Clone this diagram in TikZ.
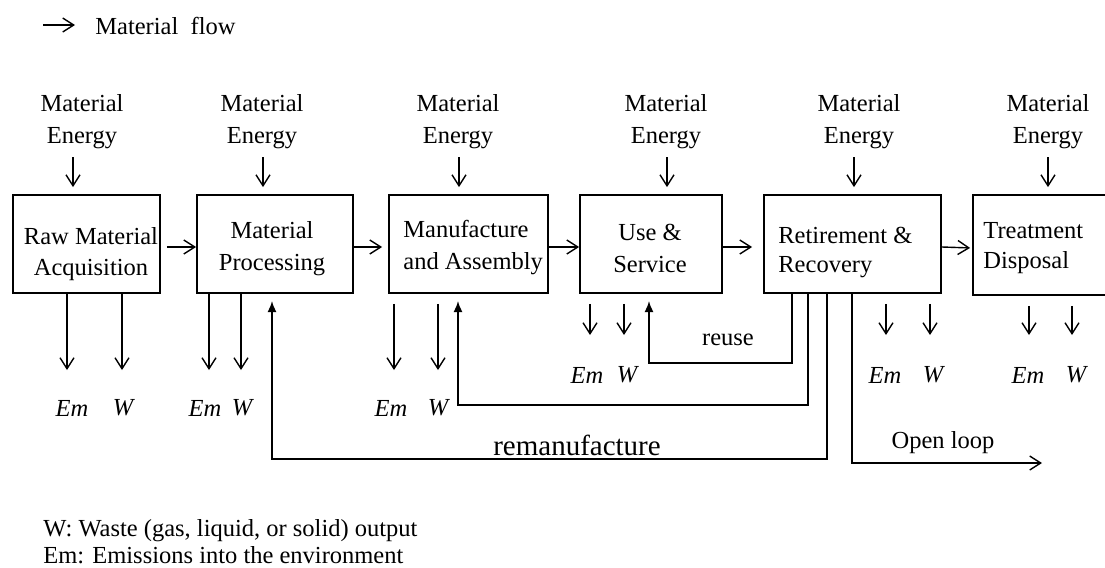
\documentclass[tikz,border=0pt]{standalone}
\usepackage{fontspec}
\setmainfont{Liberation Serif}
\usetikzlibrary{arrows.meta}
\begin{document}
\begin{tikzpicture}[x=0.5pt,y=-0.5pt,
  box/.style={draw, line width=0.9pt, inner sep=0pt, minimum height=49pt},
  txt/.style={inner sep=0pt, font=\fontsize{12.25}{16}\selectfont},
  lab/.style={inner sep=0pt, font=\fontsize{12.25}{15}\selectfont\itshape},
  flow/.style={line width=0.7pt, -{Straight Barb[length=5.5pt,width=7pt]}},
  ret/.style={line width=0.8pt, -{Latex[length=5.5pt,width=4.5pt]}}]
\clip (0,0) rectangle (1105,568);
% legend top
\coordinate (lg1) at (43,25);
\coordinate (lg2) at (75,25);
\draw[flow] (lg1) -- (lg2);
\node[txt, anchor=west] (lgt) at (95,26) {Material\ \ flow};
% boxes
\node[box, minimum width=73.5pt] (b1) at (86.5,244) {};
\node[box, minimum width=78pt] (b2) at (275,244) {};
\node[box, minimum width=79.5pt] (b3) at (468.5,244) {};
\node[box, minimum width=71pt] (b4) at (651,244) {};
\node[box, minimum width=88.5pt] (b5) at (852.5,244) {};
\node[box, minimum width=74pt, minimum height=50pt] (b6) at (1047,245) {};
% box texts
\node[txt, align=center, font=\fontsize{12.25}{15.5}\selectfont] (t1) at (91,254) {Raw Material\\Acquisition};
\node[txt, align=center] (t2) at (272,249) {Material\\Processing};
\node[txt, align=left, anchor=west] (t3) at (403,248) {Manufacture\\and Assembly};
\node[txt, align=center] (t4) at (650,248) {Use \&\\Service};
\node[txt, align=left, anchor=west, font=\fontsize{12.25}{14.5}\selectfont] (t5) at (778,252) {Retirement \&\\Recovery};
\node[txt, align=left, anchor=west, font=\fontsize{12.25}{15}\selectfont] (t6) at (983,248) {Treatment\\Disposal};
% material / energy inputs
\node[txt, align=center] (m1) at (82,122) {Material\\Energy};
\node[txt, align=center] (m2) at (262,122) {Material\\Energy};
\node[txt, align=center] (m3) at (458,122) {Material\\Energy};
\node[txt, align=center] (m4) at (666,122) {Material\\Energy};
\node[txt, align=center] (m5) at (859,122) {Material\\Energy};
\node[txt, align=center] (m6) at (1048,122) {Material\\Energy};
\coordinate (i1) at (73,157);
\coordinate (i2) at (263,157);
\coordinate (i3) at (459,157);
\coordinate (i4) at (667,157);
\coordinate (i5) at (854,157);
\coordinate (i6) at (1048,157);
\draw[flow, shorten >=3.5pt] (i1) -- (i1 |- b1.north);
\draw[flow, shorten >=3.5pt] (i2) -- (i2 |- b2.north);
\draw[flow, shorten >=3.5pt] (i3) -- (i3 |- b3.north);
\draw[flow, shorten >=3.5pt] (i4) -- (i4 |- b4.north);
\draw[flow, shorten >=3.5pt] (i5) -- (i5 |- b5.north);
\draw[flow, shorten >=3.5pt] (i6) -- (i6 |- b6.north);
% main flow
\draw[flow, shorten <=3pt] ([yshift=-1.5pt]b1.east) -- ([yshift=-1.5pt]b2.west);
\draw[flow, shorten >=3pt] ([yshift=-1.5pt]b2.east) -- ([yshift=-1.5pt]b3.west);
\draw[flow] ([yshift=-1.5pt]b3.east) -- ([yshift=-1.5pt]b4.west);
\draw[flow, shorten >=5.5pt] ([yshift=-1.5pt]b4.east) -- ([yshift=-1.5pt]b5.west);
\draw[flow, shorten >=1pt] ([yshift=-1.5pt]b5.east) -- ([yshift=-1.5pt]b6.west);
% outputs
\coordinate (o1a) at (67,370);
\coordinate (o1b) at (122,370);
\coordinate (o2a) at (209,370);
\coordinate (o2b) at (241,370);
\coordinate (o3a) at (394,370);
\coordinate (o3b) at (438,370);
\coordinate (o4a) at (590,335);
\coordinate (o4b) at (624,335);
\coordinate (o5a) at (886,335);
\coordinate (o5b) at (930,335);
\coordinate (o6a) at (1029,335);
\coordinate (o6b) at (1072,335);
\draw[flow] (o1a |- b1.south) -- (o1a);
\draw[flow] (o1b |- b1.south) -- (o1b);
\draw[flow] (o2a |- b2.south) -- (o2a);
\draw[flow] (o2b |- b2.south) -- (o2b);
\draw[flow, shorten <=5pt] (o3a |- b3.south) -- (o3a);
\draw[flow, shorten <=5pt] (o3b |- b3.south) -- (o3b);
\draw[flow, shorten <=5pt] (o4a |- b4.south) -- (o4a);
\draw[flow, shorten <=5pt] (o4b |- b4.south) -- (o4b);
\draw[flow, shorten <=5pt] (o5a |- b5.south) -- (o5a);
\draw[flow, shorten <=5pt] (o5b |- b5.south) -- (o5b);
\draw[flow, shorten <=5pt] (o6a |- b6.south) -- (o6a);
\draw[flow, shorten <=5pt] (o6b |- b6.south) -- (o6b);
% Em / W labels
\node[lab] (em1) at (72,408) {Em};
\node[lab] (w1) at (123,408) {W};
\node[lab] (em2) at (205,408) {Em};
\node[lab] (w2) at (242,408) {W};
\node[lab] (em3) at (391,408) {Em};
\node[lab] (w3) at (438,408) {W};
\node[lab] (em4) at (587,375) {Em};
\node[lab] (w4) at (627,375) {W};
\node[lab] (em5) at (885,375) {Em};
\node[lab] (w5) at (933,375) {W};
\node[lab] (em6) at (1028,375) {Em};
\node[lab] (w6) at (1076,375) {W};
% return loops
\coordinate (ru) at (792,363);
\coordinate (ruend) at (649,301);
\coordinate (rm) at (808,405);
\coordinate (rmend) at (458,301);
\coordinate (rr) at (827,459);
\coordinate (rrend) at (272,301);
\coordinate (ol) at (852,463);
\coordinate (olend) at (1042,463);
\draw[ret] (ru |- b5.south) -- (ru) -| (ruend);
\draw[ret] (rm |- b5.south) -- (rm) -| (rmend);
\draw[ret] (rr |- b5.south) -- (rr) -| (rrend);
\draw[flow] (ol |- b5.south) -- (ol) -- (olend);
\node[txt] (reuse) at (728,340) {reuse};
\node[txt, font=\fontsize{14.5}{17}\selectfont] (reman) at (577,445) {remanufacture};
\node[txt] (open) at (943,443) {Open\ loop};
% legend bottom
\node[txt, anchor=west] (lw) at (43,531) {W: Waste (gas,\ liquid,\ or solid) output};
\node[txt, anchor=west] (lem) at (43,555) {Em: Emissions into the environment};
\end{tikzpicture}
\end{document}
